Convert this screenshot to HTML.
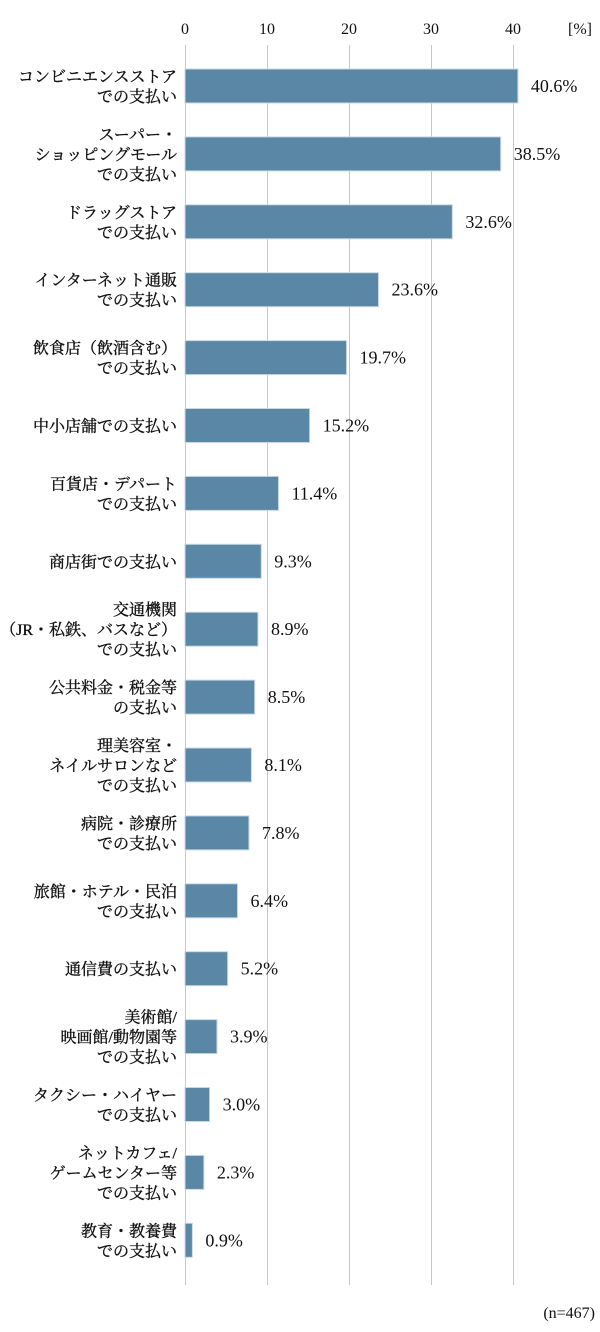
<!DOCTYPE html>
<html><head><meta charset="utf-8"><style>
html,body{margin:0;padding:0;background:#fff;width:600px;height:1332px;overflow:hidden}
svg text{font-family:"Liberation Serif","Noto Serif CJK SC","Noto Serif CJK JP",serif;fill:#111}
.l{font-size:16px;font-weight:normal;text-anchor:end;stroke:#111;stroke-width:0.35}
.v{font-size:18px}
.t{font-size:16px;text-anchor:middle}
</style></head><body>
<svg width="600" height="1332" xmlns="http://www.w3.org/2000/svg">
<g stroke="#c8c8c8" stroke-width="1">
<line x1="185.5" y1="45" x2="185.5" y2="1285"/>
<line x1="267.5" y1="45" x2="267.5" y2="1285"/>
<line x1="349.5" y1="45" x2="349.5" y2="1285"/>
<line x1="431.5" y1="45" x2="431.5" y2="1285"/>
<line x1="513.5" y1="45" x2="513.5" y2="1285"/>
</g>
<text class="t" x="185" y="34">0</text>
<text class="t" x="267" y="34">10</text>
<text class="t" x="349" y="34">20</text>
<text class="t" x="431" y="34">30</text>
<text class="t" x="513" y="34">40</text>
<text class="t" x="580" y="34">[%]</text>
<g id="bars"></g>
<text x="595" y="1318" style="font-size:16px;text-anchor:end">(n=467)</text>
</svg>
<script>
var d=[
[["コンビニエンスストア","での支払い"],40.6],
[["スーパー・","ショッピングモール","での支払い"],38.5],
[["ドラッグストア","での支払い"],32.6],
[["インターネット通販","での支払い"],23.6],
[["飲食店（飲酒含む）","での支払い"],19.7],
[["中小店舗での支払い"],15.2],
[["百貨店・デパート","での支払い"],11.4],
[["商店街での支払い"],9.3],
[["交通機関","（JR・私鉄、バスなど）","での支払い"],8.9],
[["公共料金・税金等","の支払い"],8.5],
[["理美容室・","ネイルサロンなど","での支払い"],8.1],
[["病院・診療所","での支払い"],7.8],
[["旅館・ホテル・民泊","での支払い"],6.4],
[["通信費の支払い"],5.2],
[["美術館/","映画館/動物園等","での支払い"],3.9],
[["タクシー・ハイヤー","での支払い"],3.0],
[["ネットカフェ/","ゲームセンター等","での支払い"],2.3],
[["教育・教養費","での支払い"],0.9]];
var g=document.getElementById('bars'),h='';
d.forEach(function(r,i){
 var c=86+i*67.9,w=r[1]*8.2;
 h+='<rect x="185" y="'+(c-17)+'" width="'+w+'" height="34" fill="#5a87a5" stroke="#c9d8e3" stroke-width="1"/>';
 h+='<text class="v" x="'+(185+w+13)+'" y="'+(c+6)+'">'+r[1].toFixed(1)+'%</text>';
 var n=r[0].length;
 r[0].forEach(function(s,j){
  var y=c+(j-(n-1)/2)*20+6;
  h+='<text class="l" x="177" y="'+y+'">'+s+'</text>';
 });
});
g.innerHTML=h;
</script>
</body></html>
